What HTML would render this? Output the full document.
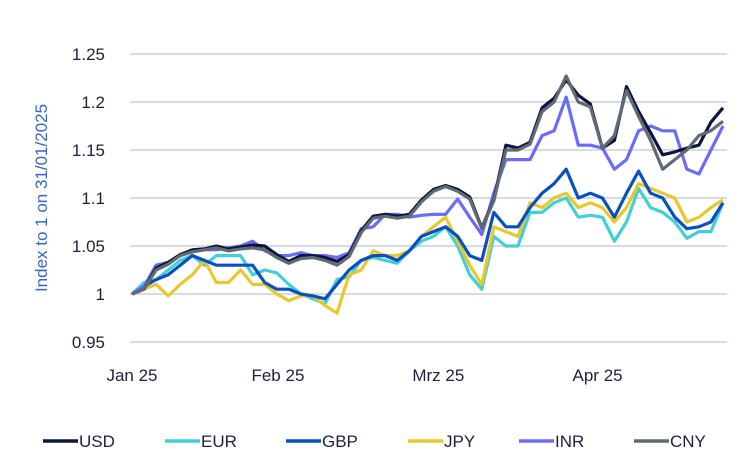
<!DOCTYPE html>
<html><head><meta charset="utf-8"><style>
body{margin:0;background:#fff;font-family:"Liberation Sans",sans-serif}
svg text{font-family:"Liberation Sans",sans-serif}
</style></head><body>
<svg id="chart" width="752" height="457"></svg>
<script>
const categories=[];for(let i=0;i<50;i++)categories.push(i);
const yTicks=[0.95,1,1.05,1.1,1.15,1.2,1.25];
const yTickLabels=["0.95","1","1.05","1.1","1.15","1.2","1.25"];
const xLabels=["Jan 25","Feb 25","Mrz 25","Apr 25"];
const xLabelIdx=[0,12.1,25.4,38.6];
const usd=[1.000,1.005,1.027,1.033,1.041,1.046,1.047,1.050,1.047,1.049,1.051,1.050,1.041,1.034,1.040,1.040,1.038,1.034,1.041,1.066,1.081,1.083,1.081,1.083,1.098,1.109,1.113,1.109,1.101,1.069,1.098,1.155,1.152,1.158,1.194,1.204,1.223,1.207,1.198,1.152,1.160,1.216,1.190,1.168,1.145,1.148,1.152,1.155,1.179,1.194];
const cny=[1.000,1.005,1.025,1.031,1.040,1.044,1.046,1.048,1.045,1.047,1.048,1.046,1.038,1.032,1.037,1.038,1.035,1.030,1.039,1.064,1.079,1.081,1.079,1.081,1.096,1.107,1.112,1.107,1.099,1.068,1.097,1.150,1.150,1.156,1.190,1.200,1.227,1.200,1.195,1.152,1.165,1.212,1.185,1.160,1.130,1.140,1.150,1.165,1.170,1.180];
const inr=[1.000,1.008,1.030,1.033,1.040,1.044,1.046,1.046,1.048,1.050,1.055,1.045,1.040,1.040,1.043,1.040,1.040,1.038,1.043,1.068,1.070,1.083,1.083,1.080,1.082,1.083,1.083,1.099,1.080,1.062,1.105,1.140,1.140,1.140,1.165,1.170,1.205,1.155,1.155,1.152,1.130,1.140,1.170,1.175,1.170,1.170,1.130,1.125,1.150,1.175];
const gbp=[1.000,1.008,1.015,1.020,1.030,1.040,1.035,1.030,1.030,1.030,1.030,1.012,1.005,1.005,1.000,0.998,0.995,1.010,1.025,1.035,1.040,1.040,1.035,1.045,1.060,1.065,1.070,1.060,1.040,1.035,1.085,1.070,1.070,1.090,1.105,1.115,1.130,1.100,1.105,1.100,1.080,1.105,1.128,1.105,1.100,1.080,1.068,1.070,1.075,1.095];
const eur=[1.000,1.012,1.015,1.025,1.035,1.040,1.030,1.040,1.040,1.040,1.020,1.025,1.022,1.010,1.000,0.995,0.990,1.015,1.018,1.035,1.038,1.035,1.032,1.045,1.055,1.060,1.070,1.050,1.020,1.005,1.060,1.050,1.050,1.085,1.085,1.095,1.100,1.080,1.082,1.080,1.055,1.075,1.110,1.090,1.085,1.075,1.058,1.065,1.065,1.095];
const jpy=[1.000,1.005,1.010,0.998,1.010,1.020,1.035,1.012,1.012,1.025,1.010,1.010,1.000,0.993,0.998,0.998,0.988,0.980,1.020,1.025,1.045,1.040,1.040,1.045,1.060,1.070,1.080,1.055,1.030,1.010,1.070,1.065,1.060,1.095,1.090,1.100,1.105,1.090,1.095,1.090,1.075,1.090,1.115,1.110,1.105,1.100,1.075,1.080,1.090,1.098];
const series=[["USD",usd,"#0d1540"],["EUR",eur,"#40d0d6"],["GBP",gbp,"#0a4fc0"],["JPY",jpy,"#e8c82c"],["INR",inr,"#6a6cf5"],["CNY",cny,"#5f6a72"]];
const drawOrder=[1,3,2,4,0,5];
const NS="http://www.w3.org/2000/svg";
const svg=document.getElementById("chart");
const X0=132,X1=723,Y0=294,PX=960;
const xs=i=>X0+(X1-X0)*i/(categories.length-1);
const ys=v=>Y0-(v-1)*PX;
function mk(t,a){const e=document.createElementNS(NS,t);for(const k in a)e.setAttribute(k,a[k]);svg.appendChild(e);return e;}
yTicks.forEach((t,i)=>{
 const g=mk("line",{x1:130,x2:727,y1:ys(t),y2:ys(t),stroke:"#c9d1db","stroke-width":1.5});
 
 
 const l=mk("text",{x:105,y:ys(t)+6,"text-anchor":"end","font-size":17,fill:"#1f1f3f"});l.textContent=yTickLabels[i];
 
 
});
xLabels.forEach((s,i)=>{
 const l=mk("text",{x:xs(xLabelIdx[i]),y:381,"text-anchor":"middle","font-size":17,fill:"#1f1f3f"});l.textContent=s;
 
 
});
const yt=mk("text",{transform:"translate(47,198) rotate(-90)","text-anchor":"middle","font-size":17,fill:"#3a66c8"});yt.textContent="Index to 1 on 31/01/2025";


drawOrder.forEach(k=>{
 const [n,vals,c]=series[k];
 const p=mk("polyline",{points:vals.map((v,i)=>xs(i).toFixed(1)+","+ys(v).toFixed(1)).join(" "),fill:"none",stroke:c,"stroke-width":3.2,"stroke-linejoin":"round"});
 
 
});
const legX=[43,165,286,408,519,634];
series.forEach(([n,v,c],i)=>{
 const l=mk("line",{x1:legX[i],x2:legX[i]+35,y1:441,y2:441,stroke:c,"stroke-width":3.5});
 
 
 const t=mk("text",{x:legX[i]+36,y:447,"font-size":17,fill:"#1f1f3f"});t.textContent=n;
 
 
});
</script>
</body></html>
